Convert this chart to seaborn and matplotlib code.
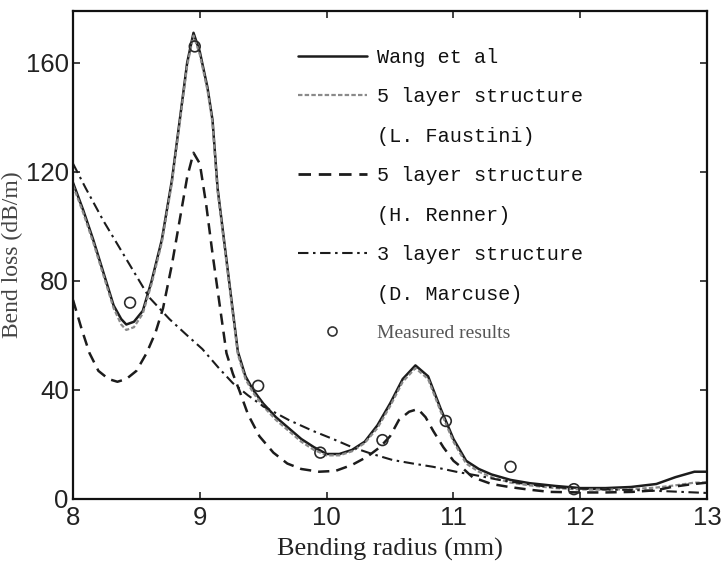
import numpy as np
import pandas as pd
import seaborn as sns
import matplotlib
matplotlib.use("Agg")
import matplotlib.pyplot as plt
from matplotlib.lines import Line2D

# ---- data ----
wang_x = [8.0, 8.08, 8.16, 8.24, 8.32, 8.38, 8.42, 8.48, 8.55, 8.62, 8.70, 8.78, 8.85, 8.90,
          8.95, 9.00, 9.06, 9.10, 9.14, 9.22, 9.30, 9.36, 9.42, 9.50, 9.60, 9.70, 9.80, 9.90,
          10.0, 10.1, 10.2, 10.3, 10.4, 10.5, 10.6, 10.7, 10.8, 10.9, 11.0, 11.1, 11.2, 11.3,
          11.45, 11.6, 11.8, 12.0, 12.2, 12.4, 12.6, 12.75, 12.9, 13.0]
wang_y = [116, 106, 95, 83, 71, 66, 64, 65, 69, 80, 95, 117, 142, 160,
          171, 164, 151, 139, 114, 84, 54, 45, 40, 35, 30, 26, 22, 19,
          16.5, 16.5, 18, 21, 27, 35, 44, 49, 45, 33, 22, 14, 11, 9,
          7, 5.8, 4.8, 4, 4, 4.4, 5.5, 8, 10, 10]

faus_x = [8.0, 8.08, 8.16, 8.24, 8.32, 8.38, 8.42, 8.48, 8.55, 8.62, 8.70, 8.78, 8.85, 8.90,
          8.95, 9.00, 9.06, 9.10, 9.14, 9.22, 9.30, 9.36, 9.42, 9.50, 9.60, 9.70, 9.80, 9.90,
          10.0, 10.1, 10.2, 10.3, 10.4, 10.5, 10.6, 10.7, 10.8, 10.9, 11.0, 11.1, 11.2, 11.3,
          11.45, 11.6, 11.8, 12.0, 12.2, 12.4, 12.6, 12.75, 12.9, 13.0]
faus_y = [115, 105, 94, 82, 70, 64, 62, 63, 68, 79, 94, 116, 141, 159,
          170, 163, 150, 138, 113, 83, 53, 44, 39, 34, 29, 25, 21, 18,
          16, 16, 17.5, 20.5, 26, 34, 43, 48, 44, 32, 21, 13, 10, 8,
          6, 5, 4, 3.5, 3.4, 3.6, 4.2, 5, 6, 6]

renner_x = [8.0, 8.07, 8.13, 8.2, 8.28, 8.35, 8.42, 8.5, 8.58, 8.65, 8.71, 8.78, 8.84, 8.9,
            8.95, 9.0, 9.05, 9.1, 9.16, 9.21, 9.26, 9.31, 9.38, 9.47, 9.58, 9.69, 9.8, 9.94,
            10.07, 10.2, 10.32, 10.42, 10.5, 10.57, 10.65, 10.72, 10.78, 10.84, 10.92, 11.0,
            11.08, 11.15, 11.3, 11.44, 11.6, 11.76, 12.0, 12.2, 12.41, 12.6, 12.72, 12.86, 13.0]
renner_y = [73, 62, 53.5, 47, 44, 43, 44, 47, 53.5, 61, 70, 86, 102, 118,
            127, 123, 108, 90, 70, 53.5, 46, 40, 31, 23, 17, 13, 11, 10,
            10.3, 12.5, 15.5, 19, 23, 29, 32, 33, 30, 25, 19, 14,
            11, 8, 5.5, 4.4, 3.4, 2.6, 2.4, 2.4, 2.6, 3.2, 4.4, 5.3, 6]

marc_x = [8.0, 8.1, 8.24, 8.42, 8.6, 8.76, 8.9, 9.02, 9.15, 9.26, 9.38, 9.5, 9.7, 9.89,
          10.05, 10.2, 10.36, 10.52, 10.68, 10.84, 11.02, 11.2, 11.36, 11.56, 11.76, 12.0,
          12.2, 12.41, 12.7, 13.0]
marc_y = [123, 114, 102, 88, 74, 66, 60, 55, 48, 42.5, 38, 34, 29, 25,
          22, 19, 16.5, 14.3, 13, 11.8, 10, 8.5, 7, 5.6, 4.4, 3.8,
          3.5, 3.3, 2.8, 2.2]

meas_x = [8.45, 8.96, 9.46, 9.95, 10.44, 10.94, 11.45, 11.95]
meas_y = [72, 166, 41.5, 17, 21.6, 28.6, 11.8, 3.6]

labels = ["Wang et al", "5 layer structure", "(L. Faustini)",
          "5 layer structure", "(H. Renner)", "3 layer structure",
          "(D. Marcuse)", "Measured results"]

# ---- style ----
sns.set_style("ticks")
plt.rcParams["font.family"] = ["Liberation Sans", "DejaVu Sans"]

fig = plt.figure(figsize=(7.23, 5.66), dpi=100)
ax = fig.add_axes([0.101, 0.1184, 0.877, 0.8622])

ink = "#1c1c1c"
sns.lineplot(x=wang_x, y=wang_y, ax=ax, color=ink, lw=1.8, sort=False,
             estimator=None, linestyle="-")
sns.lineplot(x=faus_x, y=faus_y, ax=ax, color="#8a8a8a", lw=1.6, sort=False,
             estimator=None, linestyle=(0, (2.0, 1.0)))
sns.lineplot(x=renner_x, y=renner_y, ax=ax, color=ink, lw=1.8, sort=False,
             estimator=None, linestyle=(0, (4.5, 2.8)))
sns.lineplot(x=marc_x, y=marc_y, ax=ax, color=ink, lw=1.5, sort=False,
             estimator=None, linestyle=(0, (5, 2.2, 1.2, 2.2)))
sns.scatterplot(x=meas_x, y=meas_y, ax=ax, marker="o", s=60,
                facecolor="none", edgecolor="#2a2a2a", linewidth=1.2, zorder=5)

ax.set_xlim(8, 13)
ax.set_ylim(0, 179)
ax.set_xticks([8, 9, 10, 11, 12, 13])
ax.set_yticks([0, 40, 80, 120, 160])
ax.tick_params(direction="in", length=5, width=1.2, top=True, right=True,
               labelsize=18.5, pad=3, colors="#222222")
ax.tick_params(axis="x", pad=5)
for s in ax.spines.values():
    s.set_linewidth(1.6)
    s.set_color("#111111")

ax.set_xlabel("Bending radius (mm)", family="Liberation Serif", fontsize=19,
              color="#222222", labelpad=6)
ax.set_ylabel("Bend loss (dB/m)", family="Liberation Serif", fontsize=17,
              color="#444444", labelpad=2)

# ---- legend ----
blank = Line2D([], [], color="none")
handles = [
    Line2D([], [], color=ink, lw=1.8),
    Line2D([], [], color="#8a8a8a", lw=1.6, linestyle=(0, (2.0, 1.0))),
    blank,
    Line2D([], [], color=ink, lw=2.0, linestyle=(0, (4.5, 2.8))),
    blank,
    Line2D([], [], color=ink, lw=1.5, linestyle=(0, (5, 2.2, 1.2, 2.2))),
    blank,
    Line2D([], [], color="none", marker="o", markersize=6.5,
           markerfacecolor="none", markeredgecolor="#333333", markeredgewidth=1.2),
]
leg = ax.legend(handles, labels, loc="upper left", bbox_to_anchor=(0.355, 0.925),
                frameon=False, borderpad=0, borderaxespad=0, handlelength=3.4,
                handletextpad=0.5, labelspacing=1.02, numpoints=1,
                prop={"family": "Liberation Mono", "size": 14.5})
for t in leg.get_texts():
    t.set_color("#111111")
mt = leg.get_texts()[-1]
mt.set_family("Liberation Serif")
mt.set_fontsize(14)
mt.set_color("#555555")

fig.savefig("out.png", dpi=100)
